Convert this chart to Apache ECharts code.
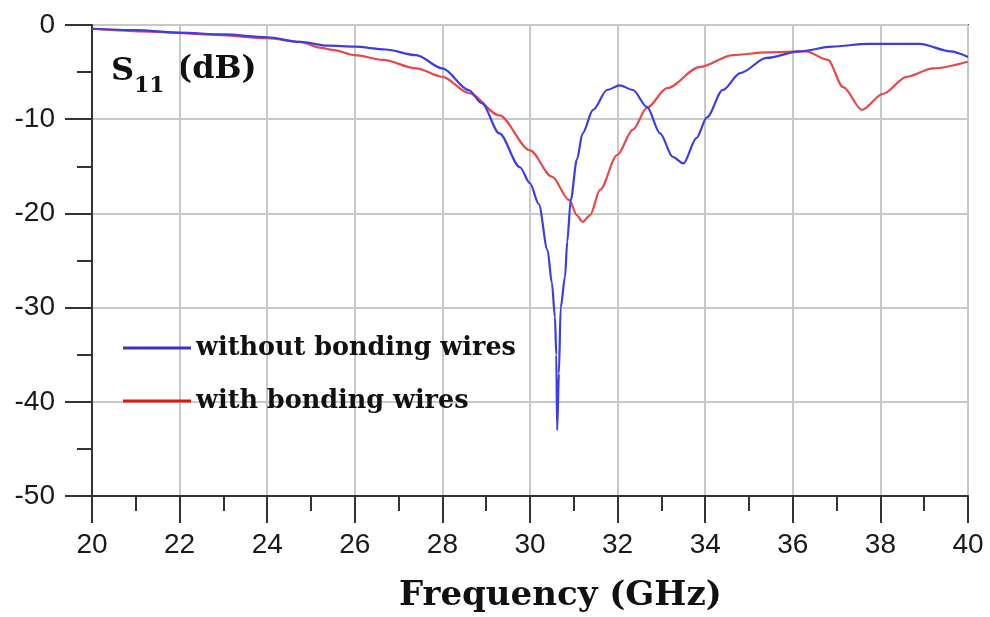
<!DOCTYPE html>
<html>
<head>
<meta charset="utf-8">
<script src="https://cdn.jsdelivr.net/npm/echarts@6/dist/echarts.min.js"></script>
<style>
  html, body { margin: 0; padding: 0; background: #fff; }
  #chart { width: 990px; height: 617px; }
</style>
</head>
<body>
<div id="chart"></div>
<script>
// Reflection coefficient S11 versus frequency, with and without bonding wires
const freqWithout = [20.0, 21.0, 22.0, 23.0, 24.0, 24.75, 25.4, 26.0, 26.7, 27.4, 28.0, 28.6, 28.9, 29.3, 29.77, 30.0, 30.2, 30.4, 30.5, 30.57, 30.6, 30.62, 30.66, 30.7, 30.8, 30.85, 30.93, 31.07, 31.2, 31.44, 31.76, 32.05, 32.35, 32.67, 32.97, 33.26, 33.5, 33.8, 34.04, 34.4, 34.8, 35.4, 36.16, 36.9, 37.7, 38.9, 39.6, 40.0];
const s11Without = [-0.4, -0.55, -0.8, -1.0, -1.3, -1.8, -2.2, -2.3, -2.6, -3.2, -4.6, -6.9, -8.3, -11.5, -15.1, -16.8, -19.0, -23.9, -27.4, -31.0, -35.0, -43.0, -37.0, -30.0, -26.7, -23.0, -18.6, -14.3, -11.5, -9.0, -6.9, -6.4, -6.9, -8.7, -11.5, -14.0, -14.7, -12.0, -9.8, -6.9, -5.1, -3.5, -2.8, -2.3, -2.0, -2.0, -2.8, -3.4];

const freqWith = [20.0, 21.3, 22.85, 24.0, 24.75, 25.2, 25.5, 26.0, 26.64, 27.4, 28.0, 28.6, 29.3, 30.0, 30.5, 30.9, 31.07, 31.2, 31.37, 31.6, 31.99, 32.35, 32.67, 33.13, 33.88, 34.63, 35.4, 36.3, 36.8, 37.15, 37.58, 38.06, 38.6, 39.2, 40.0];
const s11With = [-0.4, -0.7, -1.05, -1.4, -1.8, -2.4, -2.65, -3.2, -3.7, -4.6, -5.5, -7.2, -9.6, -13.3, -16.1, -18.6, -20.2, -20.9, -20.2, -17.5, -13.8, -11.1, -8.8, -6.7, -4.45, -3.2, -2.9, -2.8, -3.7, -6.6, -9.0, -7.3, -5.5, -4.6, -3.9];

const seriesNames = ['without bonding wires', 'with bonding wires'];
const xTicks = { min: 20, max: 40, step: 2 };
const yTicks = { min: -50, max: 0, step: 10 };

const zip = (xs, ys) => xs.map((x, i) => [x, ys[i]]);

const serif = 'DejaVu Serif';
const sans = 'Liberation Sans';

const chart = echarts.init(document.getElementById('chart'), null, { renderer: 'canvas' });

const axisCommon = {
  type: 'value',
  axisLine: { show: true, onZero: false, lineStyle: { color: '#333', width: 2 } },
  axisTick: { show: true, inside: false, length: 27, lineStyle: { color: '#333', width: 2 } },
  minorTick: { show: true, splitNumber: 2, length: 15, lineStyle: { color: '#333', width: 2 } },
  splitLine: { show: true, lineStyle: { color: '#c8c8c8', width: 2 } },
  axisLabel: { fontFamily: sans, fontSize: 28, color: '#1a1a1a' }
};

chart.setOption({
  backgroundColor: '#fff',
  animation: false,
  grid: { left: 92, right: 22, top: 25, bottom: 121, show: true, borderColor: '#555', borderWidth: 2 },
  xAxis: Object.assign({}, axisCommon, {
    min: xTicks.min, max: xTicks.max, interval: xTicks.step,
    axisLabel: Object.assign({}, axisCommon.axisLabel, { margin: 35 })
  }),
  yAxis: Object.assign({}, axisCommon, {
    min: yTicks.min, max: yTicks.max, interval: yTicks.step,
    axisLabel: Object.assign({}, axisCommon.axisLabel, { margin: 37 })
  }),
  legend: {
    orient: 'vertical',
    left: 118,
    top: 329,
    icon: 'rect',
    itemWidth: 68,
    itemHeight: 3,
    itemGap: 25,
    data: [
      { name: seriesNames[0], itemStyle: { color: '#3434cc' } },
      { name: seriesNames[1], itemStyle: { color: '#e01515' } }
    ],
    textStyle: { fontFamily: serif, fontWeight: 'bold', fontSize: 25.5, lineHeight: 28, color: '#111' }
  },
  graphic: [
    { type: 'text', left: 111, top: 56, style: { text: 'S', font: 'bold 32px "DejaVu Serif"', fill: '#111' } },
    { type: 'text', left: 134, top: 75, style: { text: '11', font: 'bold 22px "DejaVu Serif"', fill: '#111' } },
    { type: 'text', left: 177, top: 54, style: { text: '(dB)', font: 'bold 32px "DejaVu Serif"', fill: '#111' } },
    { type: 'text', left: 399, top: 579, style: { text: 'Frequency (GHz)', font: 'bold 34px "DejaVu Serif"', fill: '#111' } }
  ],
  series: [
    {
      name: seriesNames[0], type: 'line', data: zip(freqWithout, s11Without),
      showSymbol: false, smooth: 0.3, smoothMonotone: 'x',
      lineStyle: { color: '#3c3ce8', width: 2.2 }, itemStyle: { color: '#3c3ce8' }, z: 3
    },
    {
      name: seriesNames[1], type: 'line', data: zip(freqWith, s11With),
      showSymbol: false, smooth: 0.3, smoothMonotone: 'x',
      lineStyle: { color: '#e84848', width: 2.2 }, itemStyle: { color: '#e84848' }, z: 2
    }
  ]
});
</script>
</body>
</html>
